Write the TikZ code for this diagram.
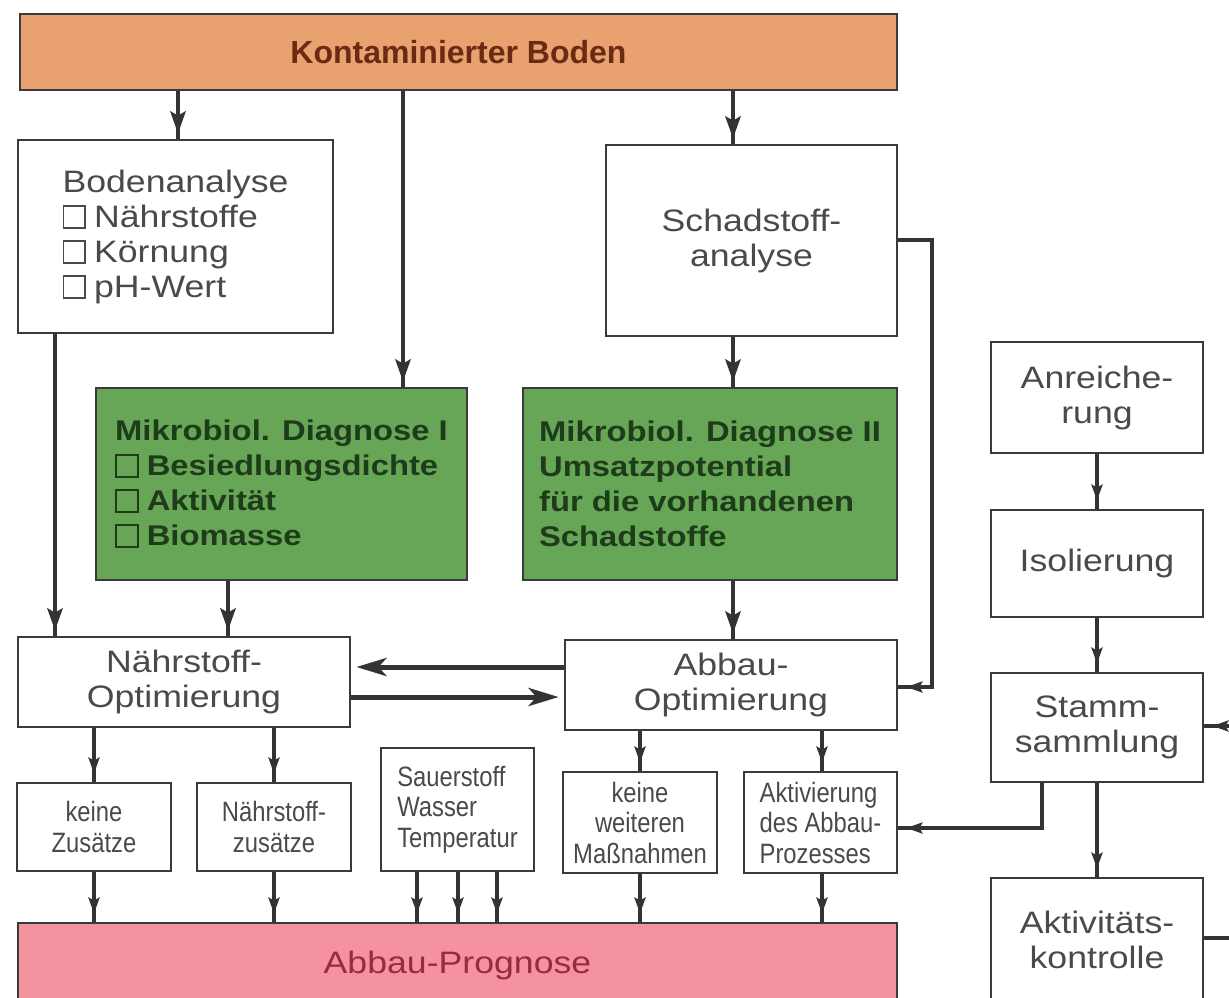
\documentclass[tikz,border=0pt]{standalone}
\usepackage{fontspec}
\setmainfont{Liberation Sans}
\newfontfamily\widefont[FakeStretch=1.15]{Liberation Sans}
\newfontfamily\condfont[FakeStretch=0.85]{Liberation Sans}
\usetikzlibrary{arrows.meta,decorations.markings}
\definecolor{bordc}{HTML}{3A3A3A}
\definecolor{linec}{HTML}{333333}
\definecolor{txtc}{HTML}{4A4A4A}
\definecolor{kbfill}{HTML}{E9A16F}
\definecolor{kbtxt}{HTML}{6A2A14}
\definecolor{grfill}{HTML}{68A657}
\definecolor{grtxt}{HTML}{1E3B1A}
\definecolor{prfill}{HTML}{F4939F}
\definecolor{prtxt}{HTML}{962C3C}
\newcommand\cbx{\begingroup\setlength\fboxsep{0pt}\setlength\fboxrule{1.8pt}\fbox{\rule{0pt}{20pt}\rule{20pt}{0pt}}\endgroup\hspace{8pt}}
\tikzset{
  box/.style={draw=bordc, line width=2.8pt, fill=white, inner sep=0pt, text=txtc,
    font=\widefont\fontsize{31}{35}\selectfont, align=center},
  sz/.style 2 args={minimum width=#1pt, minimum height=#2pt},
  grbox/.style={box, fill=grfill, text=grtxt, align=left,
    font=\widefont\bfseries\fontsize{28.5}{35}\selectfont},
  smallbox/.style={box, font=\condfont\fontsize{28}{30.5}\selectfont},
  arrT/.style={line width=4.5pt, draw=linec, postaction={decorate},
    decoration={markings, mark=at position -5pt with {\arrow{Stealth[length=22pt,width=15pt,inset=4pt]}}}},
  arrS/.style={line width=3.5pt, draw=linec, postaction={decorate},
    decoration={markings, mark=at position -8pt with {\arrow{Stealth[length=16pt,width=11pt,inset=3pt]}}}},
  arrH/.style={line width=5pt, draw=linec, -{Stealth[length=30pt,width=18pt,inset=8pt]}, shorten >=5pt},
  plainline/.style={line width=3.5pt, draw=linec},
}
\begin{document}
\begin{tikzpicture}[x=1pt,y=-1pt]
\useasboundingbox (0,0) rectangle (1229,997);
\clip (0,0) rectangle (1229,997);
\fill[white] (0,0) rectangle (1229,997);
% column / row helpers
\coordinate (c55) at (55,0);
\coordinate (c94) at (94,0);
\coordinate (c178) at (178,0);
\coordinate (c228) at (228,0);
\coordinate (c274) at (274,0);
\coordinate (c403) at (403,0);
\coordinate (c417) at (417,0);
\coordinate (c458) at (458,0);
\coordinate (c497) at (497,0);
\coordinate (c640) at (640,0);
\coordinate (c733) at (733,0);
\coordinate (c822) at (822,0);
\coordinate (c932) at (932,0);
\coordinate (c1042) at (1042,0);
\coordinate (edgeR) at (1235,0);
\coordinate (r240) at (0,240);
\coordinate (r667) at (0,667);
\coordinate (r687) at (0,687);
\coordinate (r697) at (0,697);
\coordinate (r726) at (0,726);
\coordinate (r828) at (0,828);
\coordinate (r938) at (0,938);
% nodes
\node[box, sz={877}{76}, fill=kbfill, text=kbtxt, font=\bfseries\fontsize{32}{36}\selectfont] (kb) at (458.5,52) {Kontaminierter Boden};
\node[box, sz={315}{193}, align=left] (boden) at (175.5,236.5) {Bodenanalyse\\\cbx Nährstoffe\\\cbx Körnung\\\cbx pH-Wert};
\node[box, sz={291}{191}] (schad) at (751.5,240.5) {Schadstoff-\\analyse};
\node[grbox, sz={371}{192}] (mik1) at (281.5,484) {Mikrobiol. Diagnose I\\\cbx Besiedlungsdichte\\\cbx Aktivität\\\cbx Biomasse};
\node[grbox, sz={374}{192}] (mik2) at (710,484) {Mikrobiol. Diagnose II\\Umsatzpotential\\für die vorhandenen\\Schadstoffe};
\node[box, sz={332}{90}] (nopt) at (184,682) {Nährstoff-\\Optimierung};
\node[box, sz={332}{90}] (aopt) at (731,685) {Abbau-\\Optimierung};
\node[smallbox, sz={154}{88}] (keine) at (94,827) {keine\\Zusätze};
\node[smallbox, sz={154}{88}] (nzus) at (274,827) {Nährstoff-\\zusätze};
\node[smallbox, sz={153}{123}, align=left] (swt) at (457.5,809.5) {Sauerstoff\\Wasser\\Temperatur};
\node[smallbox, sz={154}{101}] (kwm) at (640,822.5) {keine\\weiteren\\Maßnahmen};
\node[smallbox, sz={153}{101}, align=left] (akt) at (820.5,822.5) {Aktivierung\\des Abbau-\\Prozesses};
\node[box, sz={879}{84}, fill=prfill, text=prtxt, font=\widefont\fontsize{31}{35}\selectfont] (prog) at (457.5,965) {Abbau-Prognose};
\node[box, sz={212}{111}] (anr) at (1097,397.5) {Anreiche-\\rung};
\node[box, sz={212}{107}] (iso) at (1097,563.5) {Isolierung};
\node[box, sz={212}{109}] (stamm) at (1097,727.5) {Stamm-\\sammlung};
\node[box, sz={212}{124}] (aktk) at (1097,940) {Aktivitäts-\\kontrolle};
% connectors
\draw[arrT] (kb.south -| c178) -- (boden.north -| c178);
\draw[arrT] (kb.south -| c403) -- (mik1.north -| c403);
\draw[arrT] (kb.south -| c733) -- (schad.north -| c733);
\draw[arrT] (boden.south -| c55) -- (nopt.north -| c55);
\draw[arrT] (mik1.south -| c228) -- (nopt.north -| c228);
\draw[arrT] (schad.south -| c733) -- (mik2.north -| c733);
\draw[arrT] (mik2.south -| c733) -- (aopt.north -| c733);
\draw[arrS] (schad.east |- r240) -| (c932 |- r687) -- (aopt.east |- r687);
\draw[arrH] (aopt.west |- r667) -- (nopt.east |- r667);
\draw[arrH] (nopt.east |- r697) -- (aopt.west |- r697);
\draw[arrS] (nopt.south -| c94) -- (keine.north -| c94);
\draw[arrS] (nopt.south -| c274) -- (nzus.north -| c274);
\draw[arrS] (aopt.south -| c640) -- (kwm.north -| c640);
\draw[arrS] (aopt.south -| c822) -- (akt.north -| c822);
\draw[arrS] (keine.south -| c94) -- (prog.north -| c94);
\draw[arrS] (nzus.south -| c274) -- (prog.north -| c274);
\draw[arrS] (swt.south -| c417) -- (prog.north -| c417);
\draw[arrS] (swt.south -| c458) -- (prog.north -| c458);
\draw[arrS] (swt.south -| c497) -- (prog.north -| c497);
\draw[arrS] (kwm.south -| c640) -- (prog.north -| c640);
\draw[arrS] (akt.south -| c822) -- (prog.north -| c822);
\draw[arrS] (anr.south) -- (iso.north);
\draw[arrS] (iso.south) -- (stamm.north);
\draw[arrS] (stamm.south) -- (aktk.north);
\draw[arrS] (stamm.south -| c1042) |- (akt.east |- r828);
\draw[arrS] (edgeR |- r726) -- (stamm.east |- r726);
\draw[plainline] (aktk.east |- r938) -- (edgeR |- r938);
\end{tikzpicture}
\end{document}
